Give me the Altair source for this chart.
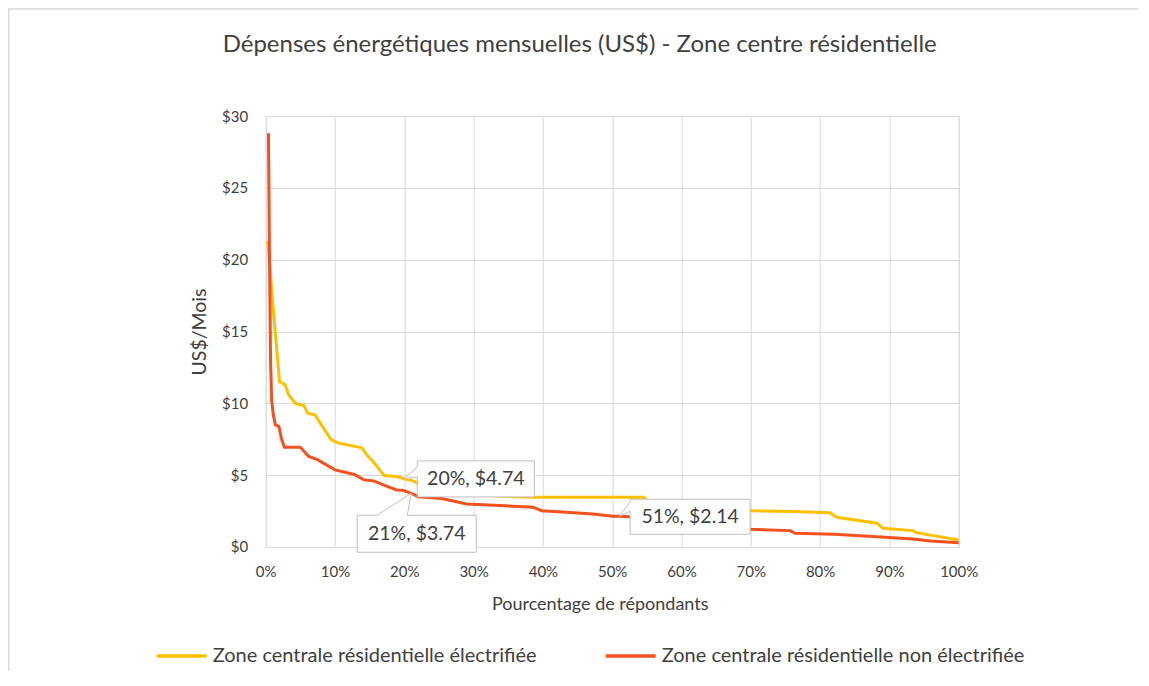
import altair as alt
import pandas as pd

# ---- data ----
title_text = "Dépenses énergétiques mensuelles (US$) - Zone centre résidentielle"
series_names = ["Zone centrale résidentielle électrifiée",
                "Zone centrale résidentielle non électrifiée"]
series_colors = ["#FFC000", "#F4511E"]

elec_pct = [0.3, 1.1, 2.0, 2.8, 3.3, 4.3, 5.5, 6.1, 7.1, 9.4, 10.5, 13.9, 14.6, 15.5,
            17.1, 18.9, 20.0, 21.0, 22.5, 25, 28, 32, 36, 38.6, 45, 54.5, 55.5, 58,
            62, 66, 70, 76, 81.4, 82.4, 88.2, 89.1, 93.4, 93.9, 100]
elec_val = [21.3, 16.5, 11.5, 11.3, 10.6, 10.0, 9.85, 9.3, 9.2, 7.5, 7.23, 6.9, 6.4, 5.95,
            4.97, 4.9, 4.74, 4.65, 4.3, 3.9, 3.7, 3.58, 3.5, 3.46, 3.46, 3.46, 3.1, 2.8,
            2.65, 2.58, 2.53, 2.47, 2.39, 2.07, 1.65, 1.3, 1.14, 1.0, 0.49]

nonelec_pct = [0.4, 0.55, 0.7, 0.86, 1.1, 1.4, 1.9, 2.3, 2.7, 5.0, 6.2, 7.4, 10.0, 12.8,
               14.2, 15.6, 17.6, 18.9, 19.8, 21.0, 22.0, 25.4, 29.0, 33, 38.6, 39.8, 44,
               47.2, 50.1, 51.0, 52.6, 56, 60, 65, 69.9, 75.7, 76.4, 82, 88.2, 93.4,
               95.9, 100]
nonelec_val = [28.8, 20.0, 13.0, 10.2, 9.2, 8.5, 8.4, 7.5, 6.95, 6.95, 6.3, 6.1, 5.37, 5.05,
               4.67, 4.6, 4.2, 3.97, 3.95, 3.74, 3.5, 3.37, 3.0, 2.9, 2.77, 2.53, 2.4,
               2.3, 2.14, 2.14, 2.11, 1.9, 1.7, 1.45, 1.23, 1.14, 0.95, 0.88, 0.72, 0.56,
               0.42, 0.3]

ann_pct = [20, 21, 51]
ann_val = [4.74, 3.74, 2.14]
ann_text = ["20%, $4.74", "21%, $3.74", "51%, $2.14"]

x_ticks = [0, 10, 20, 30, 40, 50, 60, 70, 80, 90, 100]
y_ticks = [0, 5, 10, 15, 20, 25, 30]

# ---- tables ----
df = pd.concat([
    pd.DataFrame({"pct": elec_pct, "val": elec_val, "serie": series_names[0],
                  "ord": range(len(elec_pct))}),
    pd.DataFrame({"pct": nonelec_pct, "val": nonelec_val, "serie": series_names[1],
                  "ord": range(len(nonelec_pct))}),
])
ann = pd.DataFrame({"pct": ann_pct, "val": ann_val, "label": ann_text})

FONT = "Lato"
TXT = "#404040"
GRID = "#d9d9d9"

x_enc = alt.X("pct:Q", scale=alt.Scale(domain=[0, 100], nice=False),
              axis=alt.Axis(values=x_ticks, labelExpr="datum.value + '%'",
                            title="Pourcentage de répondants", grid=True,
                            gridColor=GRID, domainColor=GRID, ticks=False,
                            labelFlush=False, labelPadding=18, labelFontSize=15,
                            labelColor=TXT, labelFont=FONT, titleFont=FONT,
                            titleFontSize=18, titleFontWeight="normal", titleColor=TXT,
                            titleX=334, titleY=58, titleBaseline="middle"))
y_enc = alt.Y("val:Q", scale=alt.Scale(domain=[0, 30], nice=False),
              axis=alt.Axis(values=y_ticks, labelExpr="'$' + datum.value",
                            title="US$/Mois", grid=True, gridColor=GRID,
                            domain=False, ticks=False, labelPadding=18,
                            labelFontSize=15, labelColor=TXT, labelFont=FONT,
                            titleFont=FONT, titleFontSize=19.5, titleFontWeight="normal",
                            titleColor=TXT, titleX=-66, titleBaseline="middle"))

lines = alt.Chart(df).mark_line(strokeWidth=3, clip=False).encode(
    x=x_enc,
    y=y_enc,
    order="ord:Q",
    color=alt.Color("serie:N",
                    scale=alt.Scale(domain=series_names, range=series_colors),
                    legend=alt.Legend(title=None, orient="none", legendX=-111,
                                      legendY=513, direction="horizontal",
                                      columns=2, columnPadding=61,
                                      symbolType="stroke", symbolSize=2500,
                                      symbolStrokeWidth=3.5, labelOffset=4,
                                      labelFont=FONT, labelFontSize=20,
                                      labelColor=TXT, labelLimit=0, padding=0)),
)

paths = [
    "M13,-18H130V18H13V-2L0,0L13,-12Z",
    "M-54,22H-34L0,0L-4,22H65V59H-54Z",
    "M11,-17H131V18H11V-5L0,0L11,-14Z",
]
text_off = [(71.5, 0), (5.5, 40.5), (71, 0.5)]

layers = [lines]
for i in range(3):
    sub = alt.Chart(ann).transform_filter(alt.datum.label == ann_text[i])
    box = sub.mark_point(shape=paths[i], size=4, filled=True, fill="white",
                         stroke="#bfbfbf", strokeWidth=1, opacity=1).encode(
        x="pct:Q", y="val:Q")
    txt = sub.mark_text(dx=text_off[i][0], dy=text_off[i][1], font=FONT,
                        fontSize=19.5, color=TXT, align="center",
                        baseline="middle").encode(
        x="pct:Q", y="val:Q", text="label:N")
    layers += [box, txt]

border = alt.Chart(pd.DataFrame({"b": [0]})).mark_rect(
    fill="transparent", stroke=GRID, strokeWidth=1.5).encode(
    x=alt.value(-257), x2=alt.value(1000), y=alt.value(-107), y2=alt.value(800))

title = alt.Chart(pd.DataFrame({"t": [title_text]})).mark_text(
    font=FONT, fontSize=24, color=TXT, align="center", baseline="alphabetic").encode(
    text="t:N", x=alt.value(314), y=alt.value(-64))

chart = alt.layer(border, title, *layers).properties(
    width=693, height=431,
    padding={"left": 257.7, "top": 108, "right": 180, "bottom": 124},
    autosize=alt.AutoSizeParams(type="none"),
).configure_view(stroke=None).configure(background="white")

chart.save("out.html", embed_options={"renderer": "svg", "actions": False})
